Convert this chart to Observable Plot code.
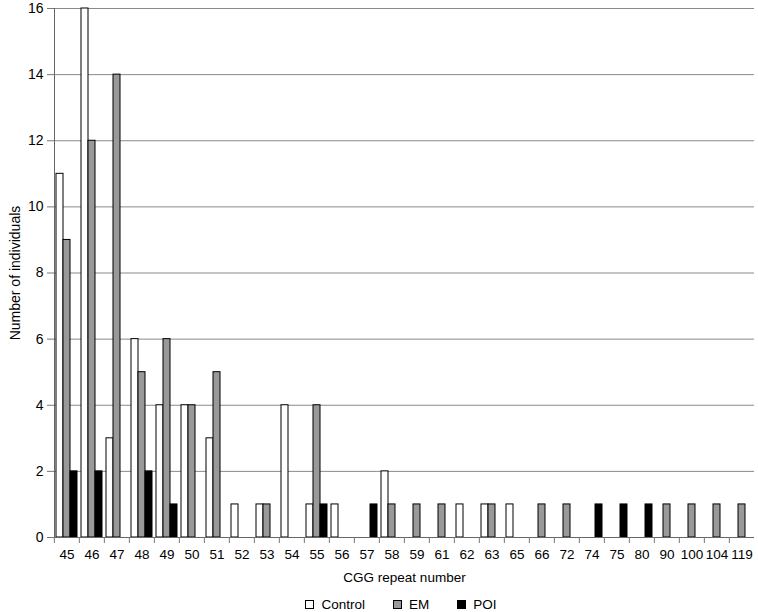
<!DOCTYPE html>
<html>
<head>
<meta charset="utf-8">
<script src="https://cdn.jsdelivr.net/npm/d3@7"></script>
<script src="https://cdn.jsdelivr.net/npm/@observablehq/plot@0.6"></script>
<style>
  html, body { margin: 0; padding: 0; background: #fff; }
  body { width: 758px; height: 612px; overflow: hidden; font-family: "Liberation Sans", Arial, sans-serif; }
  #legend { display: flex; justify-content: center; align-items: center; font-size: 13.5px; color: #000; height: 22px; margin-top: 3px; padding-left: 44px; }
  .item { display: flex; align-items: center; margin: 0 14px; }
  .sw { width: 9px; height: 9px; border: 1px solid #000; box-sizing: border-box; margin-right: 7px; }
</style>
</head>
<body>
<div id="chart"></div>
<div id="legend"></div>
<script>
const categories = ["45","46","47","48","49","50","51","52","53","54","55","56","57","58","59","61","62","63","65","66","72","74","75","80","90","100","104","119"];
const control = [11,16,3,6,4,4,3,1,1,4,1,1,0,2,0,0,1,1,1,0,0,0,0,0,0,0,0,0];
const em      = [9,12,14,5,6,4,5,0,1,0,4,0,0,1,1,1,0,1,0,1,1,0,0,0,1,1,1,1];
const poi     = [2,2,0,2,1,0,0,0,0,0,1,0,1,0,0,0,0,0,0,0,0,1,1,1,0,0,0,0];
const series = ["Control","EM","POI"];
const colors = ["#ffffff","#999999","#000000"];
const yTicks = [0,2,4,6,8,10,12,14,16];

const seriesValues = [control, em, poi];
const data = categories.flatMap((c, i) =>
  series.map((s, j) => ({cat: c, s, v: seriesValues[j][i]}))
).filter(d => d.v > 0);

const W = 758, H = 590, ML = 50, MR = 0, MT = 8, MB = 53;
const halfStep = (W - ML - MR) / categories.length / 2;
const font = '"Liberation Sans", Arial, sans-serif';

const chart = Plot.plot({
  width: W, height: H,
  marginLeft: ML, marginRight: MR, marginTop: MT, marginBottom: MB,
  style: {fontFamily: font, fontSize: "13.5px", color: "#000", background: "#fff", overflow: "visible"},
  fx: {domain: categories, padding: 0, label: null, axis: null},
  x: {domain: series, axis: null, paddingInner: 0, paddingOuter: 0.08, align: 0.4},
  y: {domain: [0, 16], label: null, axis: null},
  color: {domain: series, range: colors},
  marks: [
    Plot.gridY(yTicks, {stroke: "#8a8a8a", strokeOpacity: 1, strokeWidth: 1}),
    Plot.barY(data, {fx: "cat", x: "s", y: "v", fill: "s", stroke: "#000", strokeWidth: 1}),
    Plot.frame({anchor: "left", facet: "super", stroke: "#666"}),
    Plot.ruleY([0], {stroke: "#666"}),
    Plot.axisY({ticks: yTicks, tickSize: 7, tickPadding: 4, stroke: "#777", label: "Number of individuals", labelArrow: "none", labelAnchor: "center", labelOffset: 44, fontSize: 14}),
    Plot.axisFx({anchor: "bottom", text: null, tickSize: 6, dx: -halfStep, stroke: "#777", label: null}),
    Plot.axisFx({anchor: "bottom", tickSize: 0, tickPadding: 12, label: "CGG repeat number", labelArrow: "none", labelAnchor: "center", labelOffset: 44, fontSize: 13.5})
  ]
});
document.getElementById("chart").appendChild(chart);

const legend = document.getElementById("legend");
series.forEach((s, j) => {
  const item = document.createElement("div");
  item.className = "item";
  const sw = document.createElement("div");
  sw.className = "sw";
  sw.style.background = colors[j];
  const t = document.createElement("span");
  t.textContent = s;
  item.appendChild(sw);
  item.appendChild(t);
  legend.appendChild(item);
});
</script>
</body>
</html>
